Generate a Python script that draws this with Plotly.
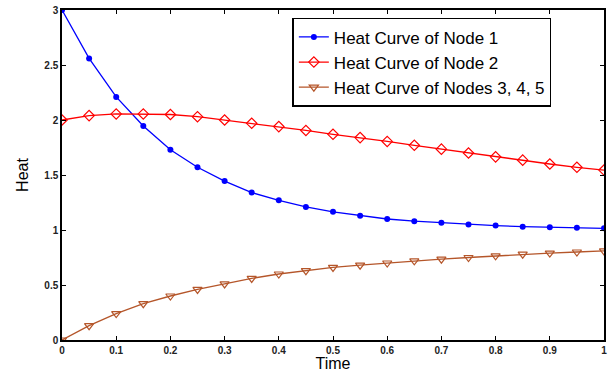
import plotly.graph_objects as go

time = [0, 0.05, 0.1, 0.15, 0.2, 0.25, 0.3, 0.35, 0.4, 0.45, 0.5,
        0.55, 0.6, 0.65, 0.7, 0.75, 0.8, 0.85, 0.9, 0.95, 1.0]
node1 = [3.0, 2.56, 2.21, 1.945, 1.73, 1.57, 1.445, 1.34, 1.27, 1.21, 1.165,
         1.13, 1.10, 1.08, 1.065, 1.05, 1.04, 1.03, 1.025, 1.02, 1.015]
node2 = [2.0, 2.04, 2.055, 2.055, 2.05, 2.03, 2.0, 1.97, 1.94, 1.905, 1.87,
         1.84, 1.805, 1.77, 1.735, 1.70, 1.665, 1.635, 1.60, 1.57, 1.545]
node345 = [0.0, 0.13, 0.24, 0.33, 0.40, 0.46, 0.51, 0.56, 0.60, 0.63, 0.66,
           0.68, 0.70, 0.72, 0.735, 0.75, 0.765, 0.78, 0.79, 0.80, 0.81]
names = ["Heat Curve of Node 1", "Heat Curve of Node 2", "Heat Curve of Nodes 3, 4, 5"]
xticks = [0, 0.1, 0.2, 0.3, 0.4, 0.5, 0.6, 0.7, 0.8, 0.9, 1]
xticklabels = ["0", "0.1", "0.2", "0.3", "0.4", "0.5", "0.6", "0.7", "0.8", "0.9", "1"]
yticks = [0, 0.5, 1, 1.5, 2, 2.5, 3]
yticklabels = ["0", "0.5", "1", "1.5", "2", "2.5", "3"]

fig = go.Figure()
fig.add_trace(go.Scatter(x=time, y=node1, name=names[0], mode="lines+markers",
                         line=dict(color="#0000FF", width=1.3),
                         marker=dict(symbol="circle", size=6, color="#0000FF")))
fig.add_trace(go.Scatter(x=time, y=node2, name=names[1], mode="lines+markers",
                         line=dict(color="#FF0000", width=1.3),
                         marker=dict(symbol="diamond-open", size=8, color="#FF0000",
                                     line=dict(width=1.2))))
fig.add_trace(go.Scatter(x=time, y=node345, name=names[2], mode="lines+markers",
                         line=dict(color="#B5562A", width=1.3),
                         marker=dict(symbol="triangle-down-open", size=8, color="#B5562A",
                                     line=dict(width=1.2))))

axis_common = dict(showline=True, linecolor="black", linewidth=1.5, mirror="ticks",
                   ticks="inside", ticklen=4, tickcolor="black", showgrid=False,
                   zeroline=False, ticklabeloverflow="allow",
                   tickfont=dict(family="Arial", size=10, color="#222", weight="bold"))
fig.update_layout(
    width=609, height=372,
    margin=dict(l=62, r=2, t=10, b=32),
    paper_bgcolor="white", plot_bgcolor="white",
    font=dict(family="Arial", color="black"),
    xaxis=dict(range=[0, 1], tickvals=xticks, ticktext=xticklabels,
               title=dict(text="Time", font=dict(size=16), standoff=1), **axis_common),
    yaxis=dict(range=[0, 3], tickvals=yticks, ticktext=yticklabels,
               title=dict(text="Heat", font=dict(size=16), standoff=12), **axis_common),
    legend=dict(x=0.425, y=0.976, xanchor="left", yanchor="top",
                bordercolor="black", borderwidth=1.5, bgcolor="white",
                font=dict(family="Arial", size=17), tracegroupgap=0, itemwidth=30),
    showlegend=True,
)
fig.write_html("out.html", config={"displayModeBar": False},
               post_script="document.body.style.margin='0';")
